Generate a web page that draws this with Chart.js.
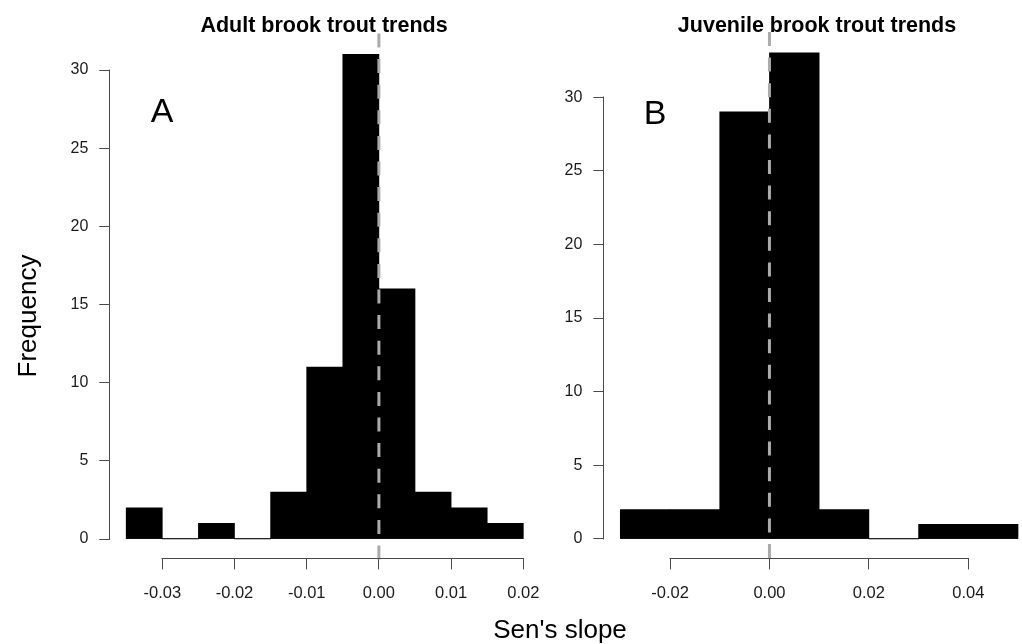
<!DOCTYPE html>
<html>
<head>
<meta charset="utf-8">
<script src="https://cdn.jsdelivr.net/npm/chart.js@4.4.1/dist/chart.umd.min.js"></script>
<style>
  html, body { margin: 0; padding: 0; background: #fff; }
  #wrap { position: relative; width: 1022px; height: 644px; overflow: hidden; }
  #wrap canvas { position: absolute; left: 0; top: 0; }
</style>
</head>
<body>
<div id="wrap">
  <canvas id="adult" width="1022" height="644"></canvas>
  <canvas id="juvenile" width="1022" height="644"></canvas>
</div>
<script>
// adult histogram: bin left edges and counts
const adultBinStarts = [-0.035, -0.03, -0.025, -0.02, -0.015, -0.01, -0.005, 0, 0.005, 0.01, 0.015];
const adultBinWidth = 0.005;
const adultCounts = [2, 0, 1, 0, 3, 11, 31, 16, 3, 2, 1];
const adultXTicks = [-0.03, -0.02, -0.01, 0, 0.01, 0.02];

// juvenile histogram
const juvBinStarts = [-0.03, -0.02, -0.01, 0, 0.01, 0.02, 0.03, 0.04];
const juvBinWidth = 0.01;
const juvCounts = [2, 2, 29, 33, 2, 0, 1, 1];
const juvXTicks = [-0.02, 0, 0.02, 0.04];

const yTicks = [0, 5, 10, 15, 20, 25, 30];

const FONT = "'Liberation Sans', Arial, Helvetica, sans-serif";
const AXIS_COL = '#4a4a4a';

const panelDecor = {
  id: 'panelDecor',
  beforeDatasetsDraw(chart, args, opts) {
    const ctx = chart.ctx, xs = chart.scales.x, ys = chart.scales.y;
    // base line of the histogram (visible in empty bins)
    const y0 = Math.round(ys.getPixelForValue(0)) - 0.5;
    ctx.save();
    ctx.strokeStyle = '#333';
    ctx.lineWidth = 1;
    ctx.beginPath();
    ctx.moveTo(xs.getPixelForValue(opts.lo), y0);
    ctx.lineTo(xs.getPixelForValue(opts.hi), y0);
    ctx.stroke();
    ctx.restore();
  },
  afterDatasetsDraw(chart) {
    const ctx = chart.ctx, xs = chart.scales.x, area = chart.chartArea;
    const x0 = xs.getPixelForValue(0);
    ctx.save();
    ctx.strokeStyle = '#ababab';
    ctx.lineWidth = 3;
    ctx.setLineDash([14, 11.6]);
    ctx.beginPath();
    ctx.moveTo(x0, area.top - 1.5);
    ctx.lineTo(x0, area.bottom + 1);
    ctx.stroke();
    ctx.restore();
  },
  afterDraw(chart, args, opts) {
    const ctx = chart.ctx, xs = chart.scales.x, ys = chart.scales.y, area = chart.chartArea;
    ctx.save();
    // axis segments, R style
    ctx.strokeStyle = AXIS_COL;
    ctx.lineWidth = 1;
    const ax = Math.round(area.left) - 0.5;
    ctx.beginPath();
    ctx.moveTo(ax, Math.round(ys.getPixelForValue(yTicks[0])) + 0.5);
    ctx.lineTo(ax, Math.round(ys.getPixelForValue(yTicks[yTicks.length - 1])) - 0.5);
    ctx.stroke();
    const ay = Math.round(area.bottom) + 0.5;
    const xt = opts.xTicks;
    ctx.beginPath();
    ctx.moveTo(Math.round(xs.getPixelForValue(xt[0])) - 0.5, ay);
    ctx.lineTo(Math.round(xs.getPixelForValue(xt[xt.length - 1])) + 0.5, ay);
    ctx.stroke();

    // title and panel letter
    ctx.fillStyle = '#000';
    ctx.textAlign = 'center';
    ctx.textBaseline = 'alphabetic';
    ctx.font = 'bold 21.5px ' + FONT;
    ctx.fillText(opts.title, opts.titleX, 32);
    ctx.font = '34px ' + FONT;
    ctx.fillText(opts.letter, opts.letterX, opts.letterY);

    if (opts.shared) {
      ctx.font = '26px ' + FONT;
      ctx.fillText("Sen's slope", 560, 638);
      ctx.translate(36, 316);
      ctx.rotate(-Math.PI / 2);
      ctx.fillText('Frequency', 0, 0);
    }
    ctx.restore();
  }
};

function histChart(id, starts, width, counts, xTicks, xMin, xMax, yMin, yMax, pad, decor) {
  return new Chart(document.getElementById(id), {
    type: 'bar',
    data: {
      datasets: [{
        data: starts.map((s, i) => ({ x: s + width / 2, y: counts[i] })),
        backgroundColor: '#000',
        borderWidth: 0,
        barPercentage: 1,
        categoryPercentage: 1
      }]
    },
    options: {
      responsive: false,
      animation: false,
      layout: { padding: pad },
      plugins: {
        legend: { display: false },
        tooltip: { enabled: false },
        panelDecor: decor
      },
      scales: {
        x: {
          type: 'linear',
          offset: false,
          min: xMin,
          max: xMax,
          afterBuildTicks: axis => { axis.ticks = xTicks.map(v => ({ value: v })); },
          afterFit: axis => { axis.height = 60; },
          border: { display: false },
          grid: { offset: false, drawOnChartArea: false, drawTicks: true, tickLength: 11, color: AXIS_COL },
          ticks: {
            autoSkip: false, maxRotation: 0, padding: 14,
            color: '#1a1a1a', font: { family: FONT, size: 16.5 },
            callback: v => v.toFixed(2)
          }
        },
        y: {
          min: yMin,
          max: yMax,
          afterBuildTicks: axis => { axis.ticks = yTicks.map(v => ({ value: v })); },
          afterFit: axis => { axis.width = 60; },
          border: { display: false },
          grid: { drawOnChartArea: false, drawTicks: true, tickLength: 11, color: AXIS_COL },
          ticks: {
            autoSkip: false, padding: 11,
            color: '#1a1a1a', font: { family: FONT, size: 16 }
          }
        }
      }
    },
    plugins: [panelDecor]
  });
}

histChart('adult', adultBinStarts, adultBinWidth, adultCounts, adultXTicks,
  -0.0372, 0.0222, -1.24, 32.24,
  { left: 50.3, right: 482.8, top: 35, bottom: 25.6 },
  { lo: -0.035, hi: 0.02, xTicks: adultXTicks, title: 'Adult brook trout trends', titleX: 324,
    letter: 'A', letterX: 162, letterY: 122, shared: true });

histChart('juvenile', juvBinStarts, juvBinWidth, juvCounts, juvXTicks,
  -0.0332, 0.0508, -1.32, 34.32,
  { left: 544.4, right: 0, top: 33.5, bottom: 25.6 },
  { lo: -0.03, hi: 0.05, xTicks: juvXTicks, title: 'Juvenile brook trout trends', titleX: 817,
    letter: 'B', letterX: 655, letterY: 124, shared: false });
</script>
</body>
</html>
